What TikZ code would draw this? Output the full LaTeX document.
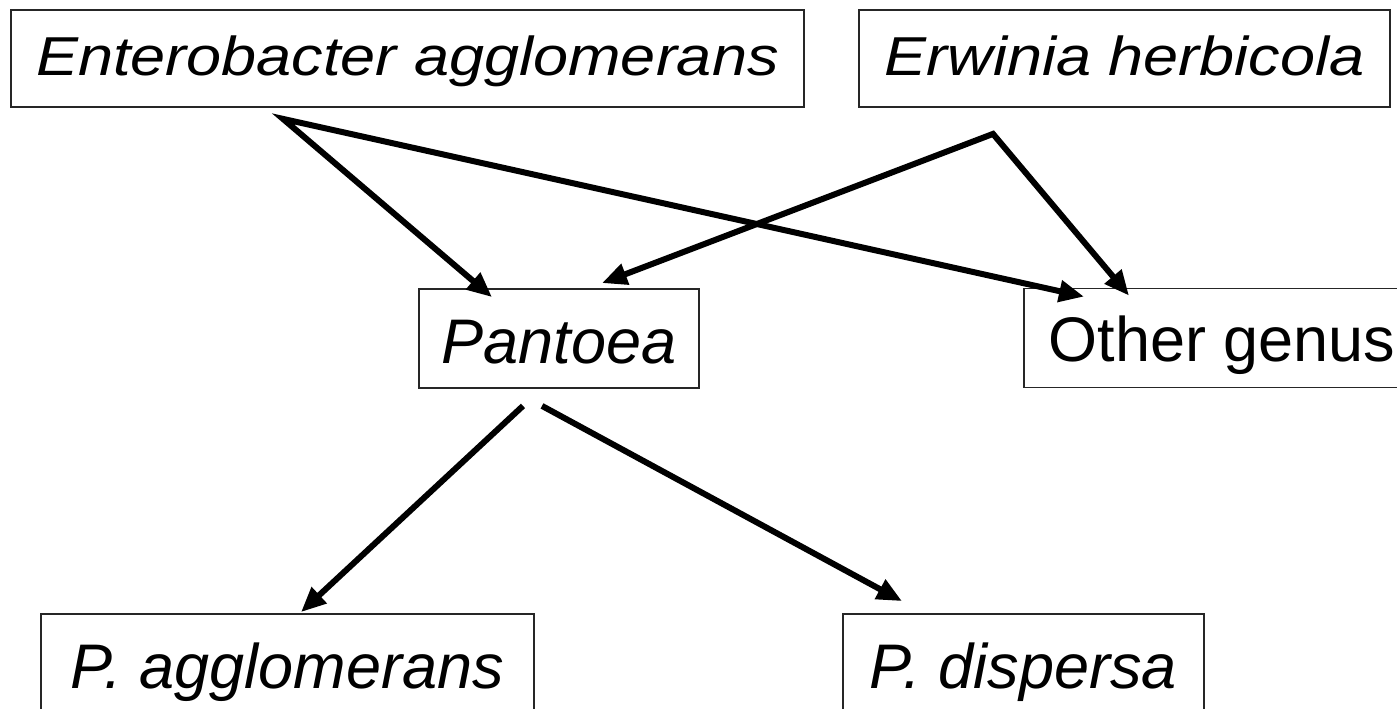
\documentclass[tikz,border=0pt]{standalone}
\usepackage{graphicx}
\usepackage{fontspec}
\setmainfont{Liberation Sans}
\usetikzlibrary{arrows.meta,calc}
\tikzset{
  box/.style={draw=black!85, line width=1.8pt, inner sep=0pt, font=\fontsize{63}{70}\selectfont},
  topbox/.style={box, minimum height=97pt, text height=39pt, text depth=6pt},
  midbox/.style={box, minimum height=99pt, text height=49pt, text depth=0pt},
  arr/.style={line width=6pt, -{Triangle[length=25pt,width=21pt]}},
  arrboth/.style={line width=6pt, line join=miter, {Triangle[length=25pt,width=21pt]}-{Triangle[length=25pt,width=21pt]}}
}
\begin{document}
\begin{tikzpicture}[x=1pt,y=-1pt]
\path[use as bounding box] (0,0) rectangle (1397,709);
\clip (0,0) rectangle (1397,709);
\node[topbox, minimum width=793pt] (e) at (407.5,58.5) {\scalebox{1}[0.87]{\itshape Enterobacter agglomerans}};
\node[topbox, minimum width=531pt] (h) at (1124.5,58.5) {\scalebox{1}[0.87]{\itshape Erwinia herbicola}};
\node[midbox, minimum width=280pt] (p) at (559,338.5) {\itshape Pantoea};
\node[midbox, minimum width=396pt, text height=46pt] (o) at (1222,338) {Other genus};
\node[midbox, minimum width=493pt] (pa) at (287.5,663.5) {\itshape P. agglomerans};
\node[midbox, minimum width=361pt] (pd) at (1023.5,663.5) {\itshape P. dispersa};
\coordinate (eOut) at ($(e.south)+(-124.5,11)$);
\coordinate (hOut) at ($(h.south)+(-131.5,26)$);
\draw[arrboth] ($(p.north)+(-67,9)$) -- (eOut) -- ($(o.north)+(-138,9)$);
\draw[arrboth] ($(p.north)+(43,-5)$) -- (hOut) -- ($(o.north)+(-93,8)$);
\draw[arr] ($(p.south)+(-36,17)$) -- ($(pa.north)+(13.5,-1)$);
\draw[arr] ($(p.south)+(-17,17)$) -- ($(pd.north)+(-121.5,-12)$);
\end{tikzpicture}
\end{document}
